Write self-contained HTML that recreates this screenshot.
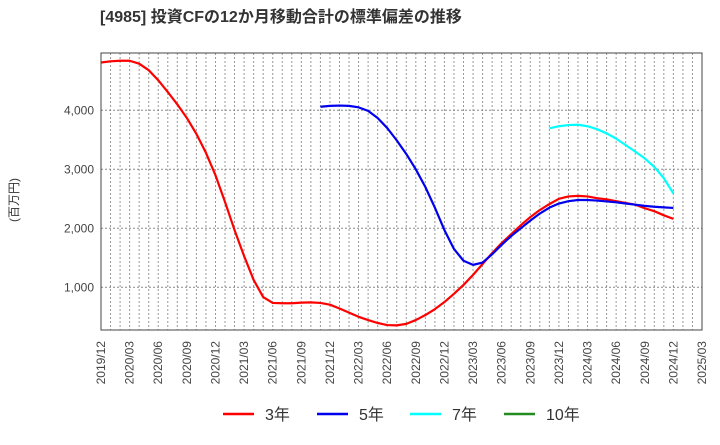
<!DOCTYPE html>
<html><head><meta charset="utf-8"><style>
body{margin:0;background:#fff;font-family:"Liberation Sans","Noto Sans CJK JP",sans-serif}
</style></head><body>
<svg id="c" width="720" height="440" xmlns="http://www.w3.org/2000/svg"></svg>
<script>
const categories=[];for(let y=2019,m=12;!(y===2025&&m>3);){categories.push(y+'/'+String(m).padStart(2,'0'));m++;if(m>12){m=1;y++;}}
const yTicks=[1000,2000,3000,4000];
const yTickLabels=['1,000','2,000','3,000','4,000'];
const s3=[4810,4830,4840,4840,4790,4680,4510,4310,4100,3870,3600,3280,2900,2445,1970,1530,1125,835,735,730,730,740,745,735,705,640,570,500,445,395,360,355,380,445,530,630,750,890,1040,1210,1395,1580,1750,1900,2050,2190,2310,2410,2500,2540,2550,2540,2510,2490,2460,2430,2400,2340,2290,2220,2160];
const s5start=23;
const s5=[4060,4075,4080,4075,4050,3990,3870,3700,3490,3260,3000,2700,2350,1970,1650,1450,1380,1420,1560,1720,1870,2000,2130,2250,2350,2420,2460,2480,2480,2470,2455,2440,2420,2400,2380,2365,2355,2345];
const s7start=47;
const s7=[3695,3730,3750,3755,3730,3680,3610,3520,3410,3300,3185,3040,2850,2590];
const NS='http://www.w3.org/2000/svg';const svg=document.getElementById('c');
const L=101,R=702,T=53,B=330;
const xs=i=>L+(R-L)*i/(categories.length-1);
const ys=v=>346.3-v*0.059;
function el(t,a,p){const e=document.createElementNS(NS,t);for(const k in a)e.setAttribute(k,a[k]);(p||svg).appendChild(e);return e;}
let t=el('text',{x:100,y:22,'font-size':16,'font-weight':'bold',fill:'#333'});t.textContent='[4985]  投資CFの12か月移動合計の標準偏差の推移';


t=el('text',{x:18,y:200,'font-size':12,fill:'#333','text-anchor':'middle',transform:'rotate(-90 18 200)'});t.textContent='(百万円)';


for(let i=1;i<categories.length-1;i++){const g=el('line',{x1:xs(i),x2:xs(i),y1:T,y2:B,stroke:'#999','stroke-dasharray':'2,2','stroke-width':1});

}
yTicks.forEach((v,i)=>{const g=el('line',{x1:L,x2:R,y1:ys(v),y2:ys(v),stroke:'#888','stroke-dasharray':'2,2'});


const tx=el('text',{x:L-7,y:ys(v)+4,'font-size':12,fill:'#444','text-anchor':'end'});tx.textContent=yTickLabels[i];

});
const fr=el('rect',{x:L,y:T,width:R-L,height:B-T,fill:'none',stroke:'#444','stroke-width':1});


for(let i=0;i<categories.length;i+=3){const x=xs(i)+4;const tx=el('text',{x:x,y:341,'font-size':12,fill:'#444','text-anchor':'end',transform:`rotate(-90 ${x} 341)`});tx.textContent=categories[i];

}
function line(data,start,color,name){const p=el('polyline',{points:data.map((v,i)=>xs(start+i)+','+ys(v)).join(' '),fill:'none',stroke:color,'stroke-width':2.2,'stroke-linejoin':'round'});

}
line(s3,0,'#ff0000','series-3y');line(s5,s5start,'#0000ee','series-5y');line(s7,s7start,'#00ffff','series-7y');
[['3年','#ff0000',223],['5年','#0000ee',317],['7年','#00ffff',410],['10年','#228b22',504]].forEach(([n,c,x])=>{
const g=el('g',{});

el('line',{x1:x,x2:x+31,y1:414,y2:414,stroke:c,'stroke-width':2.5},g);
const tx=el('text',{x:x+42,y:420,'font-size':16,fill:'#333'},g);tx.textContent=n;});
</script>
</body></html>
